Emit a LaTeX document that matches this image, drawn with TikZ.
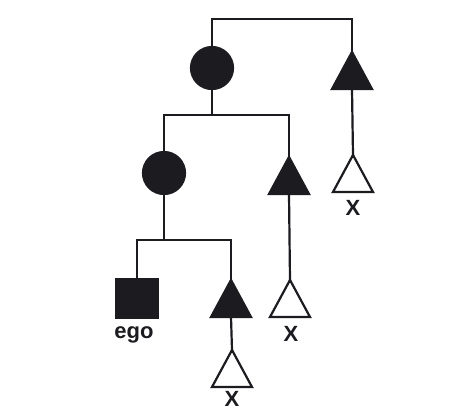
\documentclass[tikz,border=0pt]{standalone}
\usepackage{fontspec}
\setmainfont{Liberation Sans}
\usetikzlibrary{shapes.geometric}
\definecolor{ink}{RGB}{28,28,32}
\tikzset{
  kin/.style={draw=ink, line width=2.2pt},
  female/.style={kin, circle, fill=ink, minimum size=42pt, inner sep=0pt, outer sep=0pt},
  maleshape/.style={kin, isosceles triangle, shape border rotate=90,
    isosceles triangle stretches, minimum width=40pt, minimum height=37pt,
    inner sep=0pt, outer sep=0pt, anchor=apex},
  male/.style={maleshape, fill=ink},
  other/.style={maleshape, fill=white},
  egobox/.style={kin, rectangle, fill=ink, minimum width=42pt, minimum height=39pt,
    inner sep=0pt, outer sep=0pt},
  tag/.style={font=\bfseries\fontsize{22}{22}\selectfont, text=ink, inner sep=0pt, anchor=base},
  link/.style={draw=ink, line width=2.2pt, line cap=rect}
}
\begin{document}
\begin{tikzpicture}[x=1pt,y=-1pt]
  \useasboundingbox (0,0) rectangle (455,410);
  \fill[white] (0,0) rectangle (455,410);

  % people (triangles are placed by their apex)
  \node[female] (gm) at (212,68) {};
  \node[male] (gu) at (352,52) {};
  \node[other] (gx) at (353,155) {};
  \node[female] (mo) at (164,173) {};
  \node[male] (un) at (289,157) {};
  \node[other] (ux) at (290,280) {};
  \node[egobox] (ego) at (137,298.5) {};
  \node[male] (br) at (231,280) {};
  \node[other] (bx) at (232,350) {};

  % labels
  \node[tag] (egol) at (134,338) {ego};
  \node[tag] (gxl) at (353,215) {X};
  \node[tag] (uxl) at (291,341) {X};
  \node[tag] (bxl) at (232,406) {X};

  % sibling bars
  \coordinate (bar0) at (0,19);
  \coordinate (bar1) at (0,115);
  \coordinate (bar2) at (0,240);

  % descent and sibling lines
  \draw[link] (gm.north) |- (bar0 -| gu.apex) -- (gu.apex);
  \draw[link] (gm.south) -- (gm.south |- bar1);
  \draw[link] (mo.north) |- (bar1 -| un.apex) -- (un.apex);
  \draw[link] (mo.south) -- (mo.south |- bar2);
  \draw[link] (ego.north) |- (bar2 -| br.apex) -- (br.apex);
  \draw[link] (gu.lower side) -- (gx.apex);
  \draw[link] (un.lower side) -- (ux.apex);
  \draw[link] (br.lower side) -- (bx.apex);
\end{tikzpicture}
\end{document}
